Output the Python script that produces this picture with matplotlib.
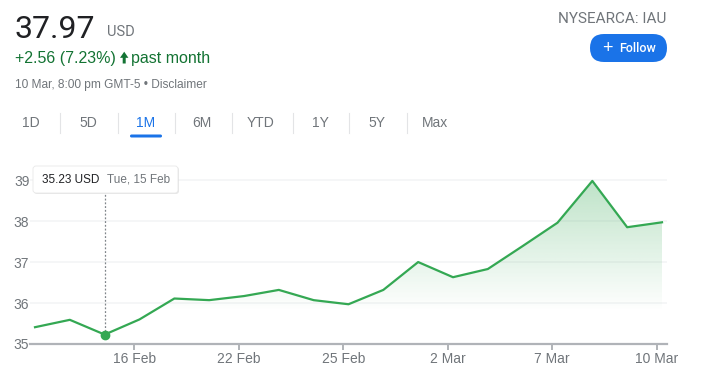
import matplotlib
matplotlib.use("Agg")
import matplotlib.pyplot as plt
import numpy as np
from matplotlib.patches import FancyBboxPatch, Polygon

# data
dates = ["11 Feb", "14 Feb", "15 Feb", "16 Feb", "17 Feb", "18 Feb", "22 Feb",
         "23 Feb", "24 Feb", "25 Feb", "28 Feb", "1 Mar", "2 Mar", "3 Mar",
         "4 Mar", "7 Mar", "8 Mar", "9 Mar", "10 Mar"]
prices = [35.41, 35.59, 35.23, 35.60, 36.11, 36.07, 36.17, 36.32, 36.07, 35.97,
          36.32, 37.00, 36.63, 36.83, 37.39, 37.96, 38.98, 37.85, 37.97]
tick_dates = ["16 Feb", "22 Feb", "25 Feb", "2 Mar", "7 Mar", "10 Mar"]
y_ticks = [35, 36, 37, 38, 39]
tabs = ["1D", "5D", "1M", "6M", "YTD", "1Y", "5Y", "Max"]
active_tab = "1M"
hover_date = "15 Feb"
hover_label = "Tue, 15 Feb"

GREEN = "#34a853"
GRAY = "#70757a"
DARK = "#202124"
BLUE = "#1a73e8"
W, H = 704, 383

fig = plt.figure(figsize=(W / 100, H / 100), dpi=100)

# chart axes placed in pixel units
left_px, right_px, bot_px, top_px = 30, 667, 344, 176
ax = fig.add_axes([left_px / W, 1 - bot_px / H, (right_px - left_px) / W, (bot_px - top_px) / H])
x = np.arange(len(prices))
step = (right_px - left_px - 10) / (len(prices) - 1)
pad = 5 / step
ax.set_xlim(-pad, len(prices) - 1 + pad)
ax.set_ylim(35, 39.1)

for s in ["top", "right", "left"]:
    ax.spines[s].set_visible(False)
ax.spines["bottom"].set_color("#b0b3b8")
ax.spines["bottom"].set_linewidth(1.6)

ax.set_yticks(y_ticks)
ax.set_yticklabels([str(v) for v in y_ticks], color=GRAY, fontsize=10, family="Liberation Sans")
ax.tick_params(axis="y", length=0, pad=0.5)
for v in y_ticks[1:]:
    ax.axhline(v, color="#f4f5f6", lw=1.2, zorder=0)

tick_pos = [dates.index(d) - 0.15 for d in tick_dates]
ax.set_xticks(tick_pos)
ax.set_xticklabels(tick_dates, color=GRAY, fontsize=10, family="Liberation Sans")
ax.tick_params(axis="x", length=4, width=1.4, color="#b0b3b8", pad=2)

# gradient fill under the line
poly = Polygon(np.column_stack([np.r_[x, x[-1], x[0]], np.r_[prices, 35, 35]]),
               closed=True, facecolor="none", edgecolor="none")
ax.add_patch(poly)
yy = np.linspace(35, 39, 256)
alpha = np.clip((yy - 35.8) / (39 - 35.8), 0, 1) * 0.32
img = np.zeros((256, 2, 4))
img[..., 0] = 52 / 255
img[..., 1] = 168 / 255
img[..., 2] = 83 / 255
img[..., 3] = alpha[:, None]
im = ax.imshow(img, extent=[x[0], x[-1], 35, 39], origin="lower", aspect="auto", zorder=1)
im.set_clip_path(poly)

ax.plot(x, prices, color=GREEN, lw=1.6, zorder=3)

hi = dates.index(hover_date)
ax.plot([hi, hi], [prices[hi], 39.3], color="#80868b", lw=0.9, ls=(0, (1.5, 1.5)), zorder=2, clip_on=False)
ax.plot(hi, prices[hi], "o", color=GREEN, ms=6, zorder=4, clip_on=False)

# overlay in pixel coordinates for the header and tooltip
ov = fig.add_axes([0, 0, 1, 1])
ov.set_xlim(0, W)
ov.set_ylim(H, 0)
ov.axis("off")
ov.patch.set_alpha(0)

ov.text(14, 38, "37.97", fontsize=23, color=DARK, family="Roboto", va="baseline")
ov.text(107, 36, "USD", fontsize=10.5, color=GRAY, family="Roboto", va="baseline")
ov.text(15, 63, "+2.56 (7.23%)", fontsize=11.5, color="#137333", family="Liberation Sans", va="baseline")
# up arrow
ov.add_patch(Polygon([(120, 57.8), (124.2, 51.7), (128.4, 57.8), (125.7, 57.8), (125.7, 63.5),
                      (122.7, 63.5), (122.7, 57.8)], closed=True, facecolor="#137333", edgecolor="none"))
ov.text(131, 63, "past month", fontsize=11.5, color="#137333", family="Liberation Sans", va="baseline")
ov.text(15, 88, "10 Mar, 8:00 pm GMT-5 \u2022 Disclaimer", fontsize=8.6, color=GRAY,
        family="Liberation Sans", va="baseline")

ov.text(666, 23, "NYSEARCA: IAU", fontsize=11, color=GRAY, family="Roboto", ha="right", va="baseline")
ov.add_patch(FancyBboxPatch((590, 34), 77, 28, boxstyle="round,pad=0,rounding_size=14",
                            facecolor=BLUE, edgecolor="none"))
ov.text(607, 48.5, "+", fontsize=13, color="white", family="Liberation Sans", ha="center", va="center")
ov.text(619, 48.5, "Follow", fontsize=9, color="white", family="Roboto", weight="medium", va="center")

# range tabs
tab_x = [31, 88, 146, 202, 261, 320, 377, 435]
sep_x = [59, 117, 174, 231, 292, 348, 406]
for t, tx in zip(tabs, tab_x):
    ov.text(tx, 123, t, fontsize=10, color=BLUE if t == active_tab else GRAY,
            family="Liberation Sans", ha="center", va="center")
for sx in sep_x:
    ov.plot([sx + 0.5, sx + 0.5], [113, 133], color="#e3e4e6", lw=0.8)
ia = tabs.index(active_tab)
ov.add_patch(FancyBboxPatch((tab_x[ia] - 16, 134.5), 32, 3, boxstyle="round,pad=0,rounding_size=1.5",
                            facecolor=BLUE, edgecolor="none"))

# tooltip box
ov.add_patch(FancyBboxPatch((34, 167), 145, 27, boxstyle="round,pad=0,rounding_size=3",
                            facecolor="#d0d0d0", edgecolor="none", alpha=0.5, zorder=5))
ov.add_patch(FancyBboxPatch((33, 166), 145, 27, boxstyle="round,pad=0,rounding_size=3",
                            facecolor="white", edgecolor="#e8e8e8", lw=0.6, zorder=6))
ov.text(42, 180, "%.2f USD" % prices[hi], fontsize=8.5, color=DARK, family="Liberation Sans",
        va="center", zorder=7)
ov.text(107, 180, hover_label, fontsize=8.5, color=GRAY, family="Liberation Sans", va="center", zorder=7)

fig.savefig("out.png", dpi=100)
